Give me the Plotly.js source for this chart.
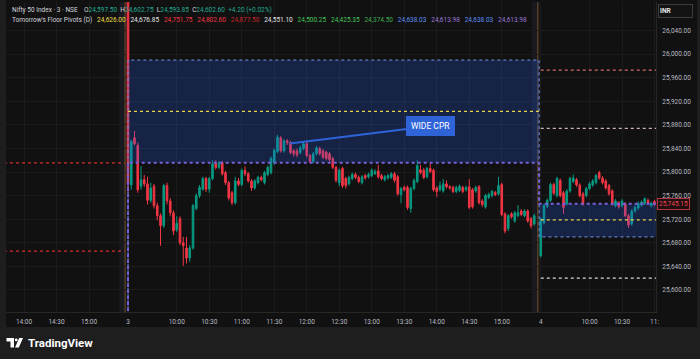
<!DOCTYPE html>
<html><head><meta charset="utf-8">
<script src="https://cdn.plot.ly/plotly-3.0.1.min.js"></script>
<style>html,body{margin:0;padding:0;background:#1e1e1e;}#chart{width:700px;height:359px;}</style>
</head><body><div id="chart"></div>
<script>
// ---------------- DATA ----------------
// bar index: day "3" session starts at 0, day "4" session starts at 127 (3-minute bars)
const dayStarts = [0, 127];
const tickIdx  = [-32, -22, -12, 0, 15, 25, 35, 45, 55, 65, 75, 85, 95, 105, 115, 127, 142, 152, 162];
const tickText = ['14:00','14:30','15:00','3','10:00','10:30','11:00','11:30','12:00','12:30','13:00','13:30','14:00','14:30','15:00','4','10:00','10:30','11:'];
const priceTicks = [25600,25640,25680,25720,25760,25800,25840,25880,25920,25960,26000,26040];

const day3Open  = [26120,25778,25858,25845,25776,25787,25780,25752,25776,25743,25726,25709,25777,25751,25731,25702,25721,25680,25671,25654,25671,25738,25760,25771,25789,25771,25789,25816,25808,25816,25799,25782,25765,25748,25785,25779,25803,25797,25785,25773,25782,25791,25782,25796,25799,25816,25835,25858,25836,25853,25850,25836,25836,25833,25840,25848,25828,25818,25831,25840,25836,25834,25831,25823,25808,25782,25806,25789,25780,25789,25796,25791,25782,25794,25792,25794,25797,25802,25794,25787,25790,25791,25797,25792,25762,25774,25774,25738,25772,25784,25804,25803,25792,25806,25803,25773,25770,25768,25780,25775,25774,25767,25769,25774,25770,25775,25770,25768,25775,25751,25741,25757,25760,25765,25763,25779,25729,25704,25729,25717,25726,25734,25726,25734,25721,25712];
const day3High  = [26130,25855,25870,25850,25810,25795,25792,25782,25780,25748,25730,25780,25782,25756,25735,25725,25725,25690,25690,25676,25746,25764,25778,25792,25792,25792,25820,25820,25819,25819,25802,25785,25768,25792,25790,25806,25810,25800,25788,25788,25794,25794,25802,25811,25826,25840,25863,25861,25856,25856,25853,25839,25840,25845,25851,25851,25831,25834,25844,25843,25839,25836,25834,25826,25810,25806,25809,25792,25794,25799,25799,25794,25795,25797,25799,25806,25805,25812,25797,25795,25797,25800,25800,25795,25775,25777,25777,25775,25789,25820,25812,25807,25809,25814,25806,25776,25784,25788,25786,25778,25777,25777,25779,25777,25777,25788,25773,25777,25778,25754,25763,25765,25770,25768,25792,25782,25732,25729,25732,25734,25744,25737,25737,25737,25724,25729];
const day3Low   = [25765,25770,25845,25765,25770,25775,25745,25748,25738,25718,25675,25705,25745,25725,25693,25698,25676,25641,25645,25648,25668,25735,25756,25768,25766,25765,25786,25804,25805,25794,25778,25752,25744,25745,25776,25776,25793,25782,25768,25770,25779,25784,25779,25793,25796,25812,25832,25833,25833,25846,25830,25826,25825,25830,25837,25825,25815,25815,25828,25828,25822,25820,25818,25805,25782,25776,25773,25772,25777,25786,25788,25781,25779,25787,25789,25791,25795,25789,25786,25784,25787,25788,25782,25760,25747,25767,25736,25731,25769,25781,25796,25788,25789,25798,25767,25758,25767,25765,25772,25770,25764,25764,25766,25764,25767,25737,25738,25765,25745,25741,25738,25754,25757,25759,25760,25725,25696,25700,25721,25714,25723,25725,25723,25714,25704,25709];
const day3Close = [25780,25852,25848,25770,25787,25780,25752,25773,25743,25726,25709,25777,25751,25731,25700,25713,25680,25675,25654,25671,25743,25760,25774,25789,25771,25789,25814,25808,25816,25797,25782,25756,25748,25785,25779,25803,25797,25785,25773,25785,25791,25787,25799,25808,25823,25837,25859,25836,25853,25850,25833,25831,25829,25841,25848,25828,25818,25831,25841,25831,25825,25823,25821,25808,25786,25803,25777,25777,25791,25796,25791,25784,25792,25790,25796,25803,25801,25792,25789,25792,25794,25797,25786,25763,25772,25770,25740,25772,25786,25811,25799,25791,25806,25801,25770,25767,25777,25780,25775,25773,25767,25774,25776,25767,25774,25740,25741,25774,25748,25745,25760,25762,25767,25762,25777,25728,25700,25726,25724,25731,25731,25728,25734,25717,25709,25726];

const day4Open  = [25658,25714,25742,25752,25779,25760,25786,25765,25746,25768,25784,25787,25778,25763,25760,25772,25778,25782,25799,25790,25785,25777,25768,25743,25748,25743,25746,25726,25712,25734,25739,25744,25747,25752,25743,25750];
const day4High  = [25723,25746,25755,25782,25782,25792,25789,25768,25771,25792,25796,25790,25781,25766,25775,25783,25788,25797,25802,25793,25788,25780,25771,25754,25751,25754,25749,25729,25737,25743,25750,25752,25757,25755,25750,25753];
const day4Low   = [25655,25711,25739,25749,25761,25757,25757,25729,25743,25765,25781,25775,25757,25743,25757,25769,25775,25779,25787,25779,25770,25760,25743,25740,25738,25740,25723,25705,25709,25731,25736,25741,25744,25744,25740,25742];
const day4Close = [25720,25743,25752,25779,25764,25789,25760,25740,25768,25789,25790,25778,25760,25746,25772,25780,25785,25794,25790,25782,25773,25763,25746,25751,25741,25751,25726,25710,25734,25740,25747,25749,25755,25747,25747,25745.15];
const lastPrice = 25745.15;

// CPR levels: [previous session, day 3, day 4]
const cprTop    = [24638.03, 25990, 25690];   // blue line
const cprBottom = [24613.98, 25816, 25746.4]; // purple line
const pivotP    = [25903, 25719];             // yellow (day 3, day 4)
const prevDayRed = [25815.7, 25666];          // red dotted, previous session
const day4R2 = 25973, day4R1 = 25874, day4S1 = 25620;

// legend texts
const symbolText = 'Nifty 50 Index · 3 · NSE';
const ohlcLabels = ['O','H','L','C'];
const ohlcValues = ['24,597.50','24,602.75','24,593.85','24,602.60'];
const changeText = '+4.20 (+0.02%)';
const pivotTitle = "Tomorrow's Floor Pivots (D)";
const pivotValues = ['24,626.00','24,676.85','24,751.75','24,802.60','24,877.50','24,551.10','24,500.25','24,425.35','24,374.50','24,638.03','24,613.98','24,638.03','24,613.98'];

// callout
const calloutText = 'WIDE CPR';
const calloutHead = {x: 49.8, y: 25848.5};
const calloutBox  = {x: 93.2, y: 25878.3};

// ---------------- STYLE ----------------
const pivotColors = ['#f2de45','#e6e6e6','#f23645','#f23645','#c7272d','#e6e6e6','#45c35a','#45c35a','#3fae4f','#5d8ff0','#9a78d8','#5d8ff0','#9a78d8'];
const UP = '#089981', DN = '#f23645';
const BG = '#111111', FRAME = '#1e1e1e', GRID = '#1b1b1b', TXT = '#b8bbc2';
const W = 700, H = 359, ML = 6, MR = 44, MT = 2, MB = 47;
const nb = n => '\u00a0'.repeat(n);
const px2x = p => (p - ML) / (W - ML - MR);
const py2y = p => (H - MB - p) / (H - MB - MT);

// ---------------- TRACES ----------------
const x3 = day3Open.map((_, k) => dayStarts[0] + k);
const x4 = day4Open.map((_, k) => dayStarts[1] + k);
const xAll = x3.concat(x4);
const d1 = dayStarts[1];
const xEnd = x4[x4.length - 1] + 1.5;
const stepX = [dayStarts[0] - 3, dayStarts[0], d1 - 0.5, xEnd];

const traces = [];
// CPR top (blue)
traces.push({type:'scatter', mode:'lines', x: stepX, y: [cprTop[0], cprTop[1], cprTop[2], cprTop[2]],
  line:{shape:'hv', color:'#6f95e6', width:1, dash:'dot'}, hoverinfo:'skip', showlegend:false});
// CPR bottom (purple) with fill
traces.push({type:'scatter', mode:'lines', x: stepX, y: [cprBottom[0], cprBottom[1], cprBottom[2], cprBottom[2]],
  line:{shape:'hv', color:'#7a5fd6', width:2, dash:'dot'}, fill:'tonexty', fillcolor:'rgba(41,98,255,0.22)',
  hoverinfo:'skip', showlegend:false});
// Pivot P (yellow)
traces.push({type:'scatter', mode:'lines', x:[dayStarts[0], d1 - 0.5, null, d1, xEnd], y:[pivotP[0], pivotP[0], null, pivotP[1], pivotP[1]],
  line:{color:'#e8d64a', width:1.3, dash:'dot'}, hoverinfo:'skip', showlegend:false, connectgaps:false});
// previous day red lines
prevDayRed.forEach(v => traces.push({type:'scatter', mode:'lines', x:[-40, dayStarts[0] - 1], y:[v, v],
  line:{color:'#d32f2f', width:1.3, dash:'dot'}, hoverinfo:'skip', showlegend:false}));
// day 4 levels
[[day4R2,'#d66a6a'],[day4R1,'#cdb4b4'],[day4S1,'#cfdccf']].forEach(([v,c]) => traces.push({type:'scatter', mode:'lines',
  x:[d1, xEnd], y:[v, v], line:{color:c, width:1.3, dash:'dot'}, hoverinfo:'skip', showlegend:false}));
// candles
traces.push({type:'candlestick', x: xAll,
  open: day3Open.concat(day4Open), high: day3High.concat(day4High), low: day3Low.concat(day4Low), close: day3Close.concat(day4Close),
  increasing:{line:{color:UP, width:1}, fillcolor:UP}, decreasing:{line:{color:DN, width:1}, fillcolor:DN},
  whiskerwidth:0, hoverinfo:'skip', showlegend:false});

// ---------------- SHAPES ----------------
const shapes = [];
shapes.push({type:'rect', xref:'paper', yref:'paper', x0:px2x(6), x1:px2x(697), y0:py2y(327), y1:py2y(0), fillcolor:BG, line:{width:0}, layer:'below'});
dayStarts.forEach(s => {
  shapes.push({type:'rect', xref:'x', yref:'paper', x0:s - 2.7, x1:s - 0.4, y0:0, y1:1, fillcolor:'rgba(90,110,170,0.10)', line:{width:0}, layer:'below'});
  shapes.push({type:'line', xref:'x', yref:'paper', x0:s - 0.9, x1:s - 0.9, y0:0, y1:1, line:{color:'rgba(230,140,40,0.45)', width:1}, layer:'below'});
});
// TradingView logo
const P = (pts) => 'M' + pts.map(p => px2x(p[0]) + ',' + py2y(p[1])).join(' L') + ' Z';
shapes.push({type:'path', xref:'paper', yref:'paper', path:P([[6.5,338],[14,338],[14,347.5],[10.5,347.5],[10.5,341.5],[6.5,341.5]]), fillcolor:'#ffffff', line:{width:0}});
shapes.push({type:'circle', xref:'paper', yref:'paper', x0:px2x(14.8), x1:px2x(17.6), y0:py2y(341.3), y1:py2y(338.5), fillcolor:'#ffffff', line:{width:0}});
shapes.push({type:'path', xref:'paper', yref:'paper', path:P([[19.2,338],[23,338],[18.8,347.5],[15,347.5]]), fillcolor:'#ffffff', line:{width:0}});

// ---------------- ANNOTATIONS ----------------
const span = (t, c) => '<span style="color:' + c + '">' + t + '</span>';
const lblC = '#d1d4dc', valC = '#22ab94';
let line1 = span(symbolText, lblC) + nb(4);
ohlcLabels.forEach((l, k) => { line1 += span(l, lblC) + span(ohlcValues[k], valC) + nb(2); });
line1 += span(changeText, valC);
let line2 = span(pivotTitle, lblC);
pivotValues.forEach((v, k) => { line2 += nb(3) + span(v, pivotColors[k]); });

const annotations = [
  {xref:'paper', yref:'paper', x:px2x(10), y:py2y(10), xanchor:'left', yanchor:'middle', showarrow:false, text:line1,
   font:{family:'Roboto', size:6.5, color:lblC}},
  {xref:'paper', yref:'paper', x:px2x(10), y:py2y(20), xanchor:'left', yanchor:'middle', showarrow:false, text:line2,
   font:{family:'Roboto', size:6.5, color:lblC}},
  {xref:'paper', yref:'paper', x:px2x(658), y:py2y(11), xanchor:'left', yanchor:'middle', showarrow:false, text:'<b>INR</b>',
   width:31, height:10, align:'left', bgcolor:'#131313', bordercolor:'#3c3c3c', borderwidth:1, borderpad:1,
   font:{family:'Roboto', size:6.5, color:'#e6e6e6'}},
  {xref:'paper', yref:'y', x:px2x(656.5), y:lastPrice, xanchor:'left', yanchor:'middle', showarrow:false,
   text:lastPrice.toLocaleString('en-US',{minimumFractionDigits:2}), bgcolor:'#1e0f11', bordercolor:'#b8323a', borderwidth:1, borderpad:1,
   font:{family:'Roboto', size:6.5, color:'#f0474f'}},
  {xref:'x', yref:'y', x:calloutHead.x, y:calloutHead.y, axref:'x', ayref:'y', ax:calloutBox.x, ay:calloutBox.y,
   showarrow:true, arrowhead:0, arrowwidth:2, arrowcolor:'#2f63d8', text:calloutText, bgcolor:'#2f63d8', bordercolor:'#2f63d8',
   borderpad:4, font:{family:'Roboto', size:8.5, color:'#ffffff'}},
  {xref:'paper', yref:'paper', x:px2x(26), y:py2y(343), xanchor:'left', yanchor:'middle', showarrow:false, text:'<b>TradingView</b>',
   font:{family:'Roboto', size:11.5, color:'#ffffff'}}
];

const layout = {
  width:W, height:H, margin:{l:ML, r:MR, t:MT, b:MB, pad:0},
  paper_bgcolor:FRAME, plot_bgcolor:BG, showlegend:false, dragmode:false,
  xaxis:{type:'linear', range:[-37.54, 162.46], tickvals:tickIdx, ticktext:tickText, showgrid:true, gridcolor:GRID, gridwidth:1,
    zeroline:false, showline:true, linecolor:'#262626', ticks:'', tickfont:{family:'Roboto', size:6.5, color:TXT},
    rangeslider:{visible:false}, fixedrange:true, ticklabelstandoff:3},
  yaxis:{side:'right', range:[25562.6, 26088.5], tickvals:priceTicks, tickformat:',.2f', showgrid:true, gridcolor:GRID,
    zeroline:false, showline:true, linecolor:'#262626', ticks:'', tickfont:{family:'Roboto', size:6.5, color:TXT},
    fixedrange:true, ticklabelstandoff:4},
  shapes:shapes, annotations:annotations
};
Plotly.newPlot('chart', traces, layout, {displayModeBar:false, staticPlot:true});
</script></body></html>
